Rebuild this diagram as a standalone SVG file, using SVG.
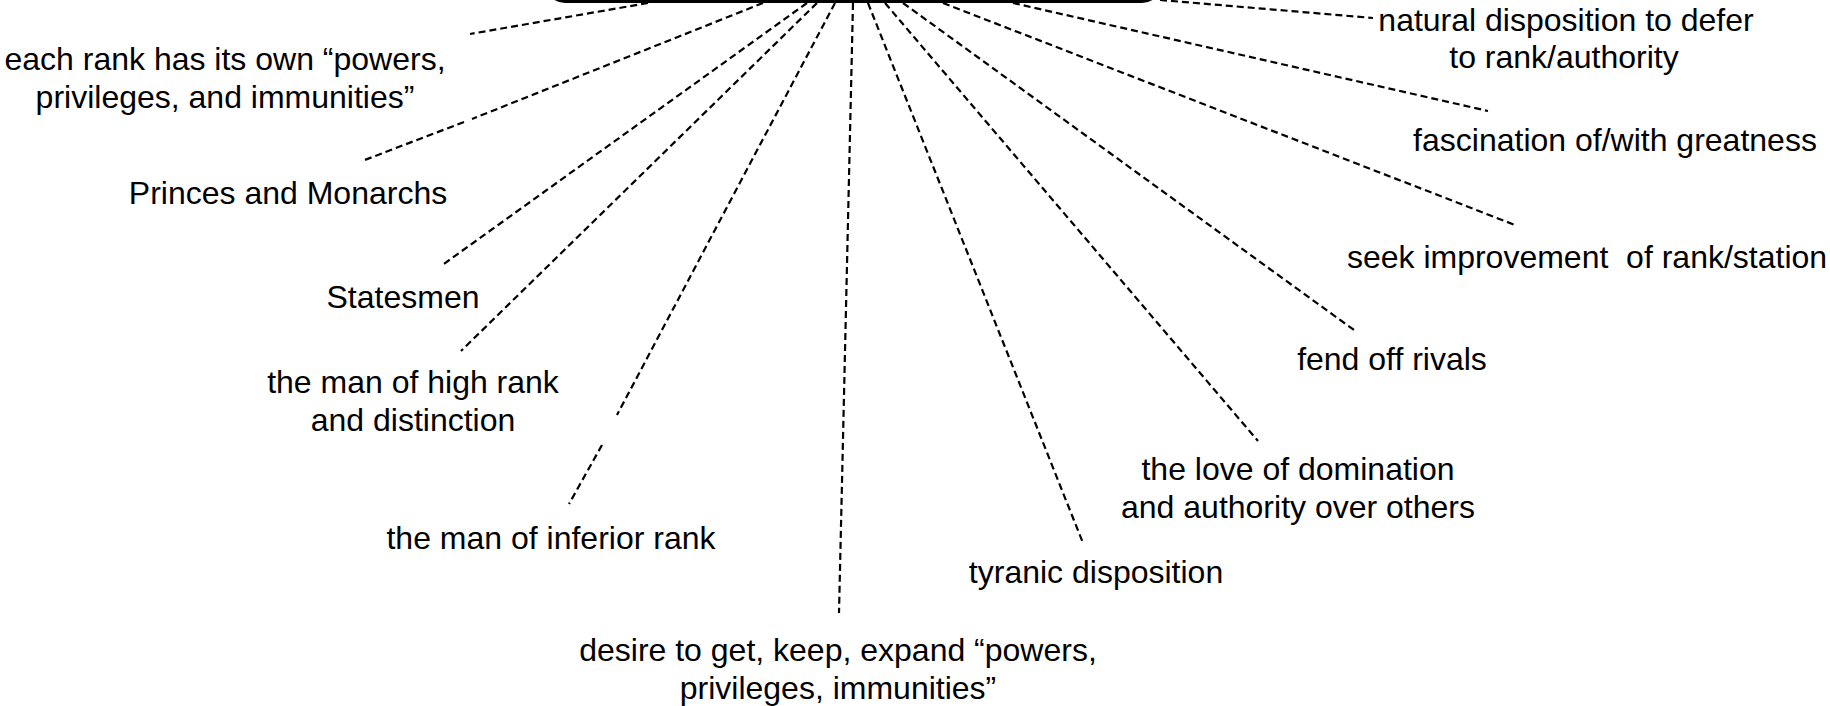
<svg xmlns="http://www.w3.org/2000/svg" width="1830" height="706" viewBox="0 0 1830 706">
<style>
.lbl{font-family:"Liberation Sans",Arial,Helvetica,sans-serif;font-size:32px;fill:#000;text-anchor:middle}
.con{stroke:#000;stroke-width:2.2;stroke-dasharray:7 4;fill:none}
.box{fill:#fff;stroke:#000;stroke-width:3}
</style>
<rect width="1830" height="706" fill="#fff"/>
<g id="connectors">
<line class="con" x1="648" y1="3" x2="470" y2="34"/>
<path class="con" d="M763 3 L472 119 M464 122 L362 161"/>
<line class="con" x1="807" y1="3" x2="441" y2="266"/>
<line class="con" x1="817" y1="3" x2="461" y2="351"/>
<path class="con" d="M835 3 L617 415 M602 445 L569 504"/>
<line class="con" x1="853" y1="3" x2="839" y2="613"/>
<line class="con" x1="868" y1="3" x2="1083" y2="543"/>
<line class="con" x1="885" y1="3" x2="1258" y2="441"/>
<line class="con" x1="903" y1="3" x2="1354" y2="330"/>
<line class="con" x1="943" y1="3" x2="1515" y2="225"/>
<line class="con" x1="1013" y1="3" x2="1488" y2="111"/>
<line class="con" x1="1160" y1="0" x2="1373" y2="18"/>
</g>
<g id="center"><rect class="box" x="547" y="-80" width="613" height="81.5" rx="18" ry="18"/></g>
<g id="n-natural"><text class="lbl" x="1566" y="31">natural disposition to defer</text><text class="lbl" x="1564" y="68">to rank/authority</text></g>
<g id="n-eachrank"><text class="lbl" x="225" y="70">each rank has its own “powers,</text><text class="lbl" x="225" y="108">privileges, and immunities”</text></g>
<g id="n-fascination"><text class="lbl" x="1615" y="151">fascination of/with greatness</text></g>
<g id="n-princes"><text class="lbl" x="288" y="204">Princes and Monarchs</text></g>
<g id="n-seek"><text class="lbl" x="1587" y="268" xml:space="preserve">seek improvement  of rank/station</text></g>
<g id="n-statesmen"><text class="lbl" x="403" y="308">Statesmen</text></g>
<g id="n-fend"><text class="lbl" x="1392" y="370">fend off rivals</text></g>
<g id="n-highrank"><text class="lbl" x="413" y="393">the man of high rank</text><text class="lbl" x="413" y="431">and distinction</text></g>
<g id="n-love"><text class="lbl" x="1298" y="480">the love of domination</text><text class="lbl" x="1298" y="518">and authority over others</text></g>
<g id="n-inferior"><text class="lbl" x="551" y="549">the man of inferior rank</text></g>
<g id="n-tyranic"><text class="lbl" x="1096" y="583">tyranic disposition</text></g>
<g id="n-desire"><text class="lbl" x="838" y="661">desire to get, keep, expand “powers,</text><text class="lbl" x="838" y="699">privileges, immunities”</text></g>
</svg>
